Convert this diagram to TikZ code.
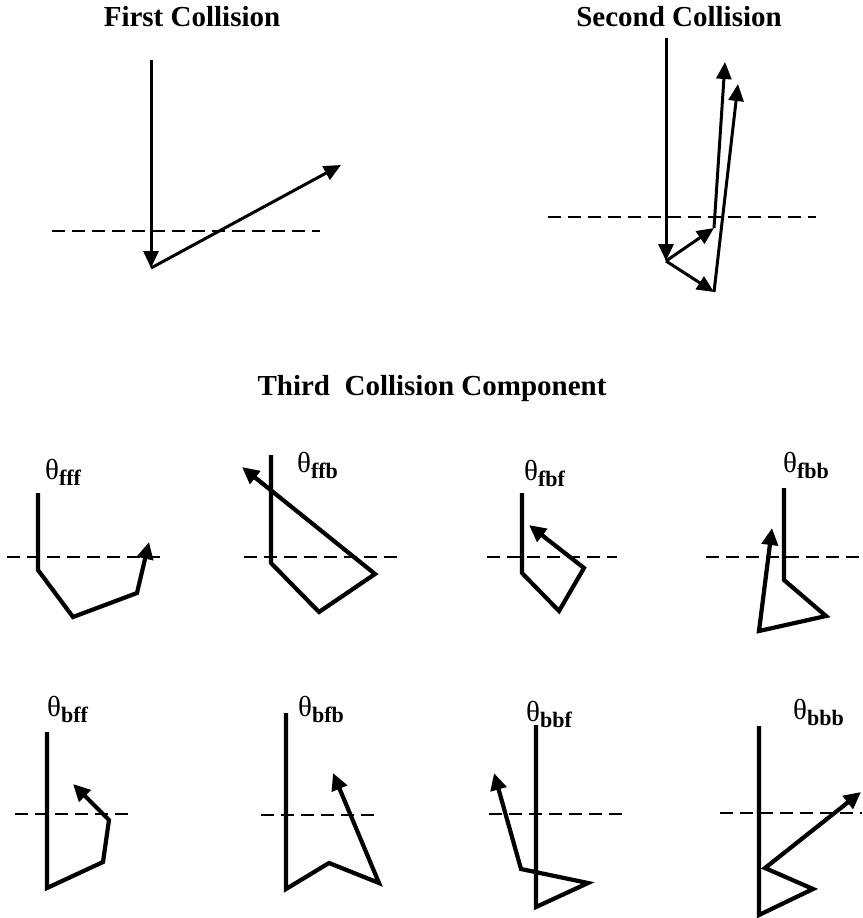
\documentclass[tikz,border=0pt]{standalone}
\usepackage{fontspec}
\newfontfamily\grk{Liberation Serif}
\newfontfamily\tms{Liberation Serif}
\usetikzlibrary{arrows.meta}
\tikzset{
  ttl/.style={font=\fontsize{29}{34}\selectfont\tms\bfseries, inner sep=0pt, anchor=base},
  lbl/.style={inner sep=0pt, anchor=base west},
  vec/.style={line width=3pt, -{Triangle[length=17pt,width=15pt]}},
  pth/.style={line width=4.2pt, line join=miter, -{Triangle[length=17pt,width=16pt]}},
  surf/.style={line width=2.2pt, dash pattern=on 13pt off 7pt}
}
\newcommand{\thl}[1]{{\fontsize{29}{32}\selectfont\grk θ}\raisebox{-6pt}{\fontsize{22}{26}\selectfont\tms\bfseries #1}}
\begin{document}
\begin{tikzpicture}[x=1pt,y=-1pt]
\useasboundingbox (0,0) rectangle (862,918);
% titles
\node[ttl] (t1) at (192,27) {First Collision};
\node[ttl] (t2) at (679,26) {Second Collision};
\node[ttl] (t3) at (432,395) {Third\ \ Collision Component};
% first collision
\coordinate (a0) at (151,60);
\coordinate (a1) at (151,268);
\coordinate (a2) at (341,165);
\coordinate (sa) at (52,231);
\coordinate (sb) at (320,231);
\draw[surf] (sa) -- (sb);
\draw[vec] (a0) -- (a1);
\draw[vec] (a1) -- (a2);
% second collision
\coordinate (b0) at (666,38);
\coordinate (b1) at (666,261);
\coordinate (b2) at (714,228);
\coordinate (b3) at (725,62);
\coordinate (b4) at (714,292);
\coordinate (b5) at (738,84);
\coordinate (sc) at (548,217);
\coordinate (sd) at (816,217);
\draw[surf] (sc) -- (sd);
\draw[vec] (b0) -- (b1);
\draw[vec] (b1) -- (b2);
\draw[vec] (b2) -- (b3);
\draw[vec] (b1) -- (b4);
\draw[vec] (b4) -- (b5);
% third collision components
% fff
\node[lbl] (l1) at (45,479) {\thl{fff}};
\coordinate (d1a) at (7,557); \coordinate (d1b) at (163,557);
\draw[surf] (d1a) -- (d1b);
\coordinate (p1a) at (38,493); \coordinate (p1b) at (38,570); \coordinate (p1c) at (73,617); \coordinate (p1d) at (137,593); \coordinate (p1e) at (149,542);
\draw[pth] (p1a) -- (p1b) -- (p1c) -- (p1d) -- (p1e);
% ffb
\node[lbl] (l2) at (297,472) {\thl{ffb}};
\coordinate (d2a) at (244,557); \coordinate (d2b) at (400,557);
\draw[surf] (d2a) -- (d2b);
\coordinate (p2a) at (271,455); \coordinate (p2b) at (271,563); \coordinate (p2c) at (319,612); \coordinate (p2d) at (375,574); \coordinate (p2e) at (242,467);
\draw[pth] (p2a) -- (p2b) -- (p2c) -- (p2d) -- (p2e);
% fbf
\node[lbl] (l3) at (524,480) {\thl{fbf}};
\coordinate (d3a) at (487,557); \coordinate (d3b) at (617,557);
\draw[surf] (d3a) -- (d3b);
\coordinate (p3a) at (522,493); \coordinate (p3b) at (522,573); \coordinate (p3c) at (559,611); \coordinate (p3d) at (584,568); \coordinate (p3e) at (529,525);
\draw[pth] (p3a) -- (p3b) -- (p3c) -- (p3d) -- (p3e);
% fbb
\node[lbl] (l4) at (783,472) {\thl{fbb}};
\coordinate (d4a) at (706,557); \coordinate (d4b) at (862,557);
\draw[surf] (d4a) -- (d4b);
\coordinate (p4a) at (784,488); \coordinate (p4b) at (784,580); \coordinate (p4c) at (826,616); \coordinate (p4d) at (759,631); \coordinate (p4e) at (772,528);
\draw[pth] (p4a) -- (p4b) -- (p4c) -- (p4d) -- (p4e);
% bff
\node[lbl] (l5) at (47,716) {\thl{bff}};
\coordinate (d5a) at (15,814); \coordinate (d5b) at (132,814);
\draw[surf] (d5a) -- (d5b);
\coordinate (p5a) at (47,732); \coordinate (p5b) at (47,888); \coordinate (p5c) at (103,862); \coordinate (p5d) at (109,820); \coordinate (p5e) at (73,784);
\draw[pth] (p5a) -- (p5b) -- (p5c) -- (p5d) -- (p5e);
% bfb
\node[lbl] (l6) at (298,716) {\thl{bfb}};
\coordinate (d6a) at (261,815); \coordinate (d6b) at (377,815);
\draw[surf] (d6a) -- (d6b);
\coordinate (p6a) at (286,713); \coordinate (p6b) at (286,889); \coordinate (p6c) at (329,863); \coordinate (p6d) at (379,883); \coordinate (p6e) at (333,773);
\draw[pth] (p6a) -- (p6b) -- (p6c) -- (p6d) -- (p6e);
% bbf
\node[lbl] (l7) at (526,721) {\thl{bbf}};
\coordinate (d7a) at (489,814); \coordinate (d7b) at (623,814);
\draw[surf] (d7a) -- (d7b);
\coordinate (p7a) at (536,725); \coordinate (p7b) at (536,907); \coordinate (p7c) at (588,883); \coordinate (p7d) at (521,869); \coordinate (p7e) at (494,773);
\draw[pth] (p7a) -- (p7b) -- (p7c) -- (p7d) -- (p7e);
% bbb
\node[lbl] (l8) at (793,719) {\thl{bbb}};
\coordinate (d8a) at (720,813); \coordinate (d8b) at (862,813);
\draw[surf] (d8a) -- (d8b);
\coordinate (p8a) at (759,726); \coordinate (p8b) at (759,915); \coordinate (p8c) at (813,889); \coordinate (p8d) at (765,868); \coordinate (p8e) at (861,792);
\draw[pth] (p8a) -- (p8b) -- (p8c) -- (p8d) -- (p8e);
\end{tikzpicture}
\end{document}
